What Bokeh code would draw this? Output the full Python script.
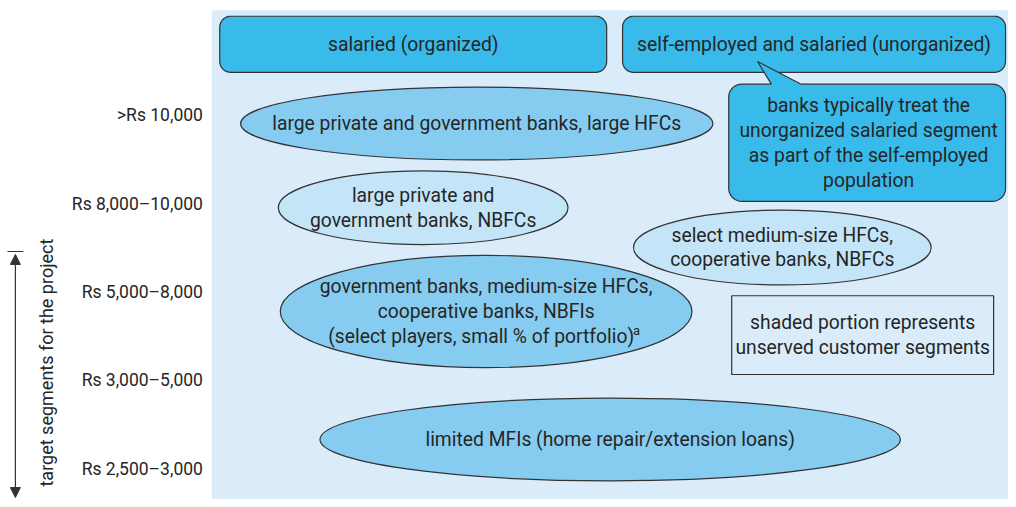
import numpy as np
from bokeh.plotting import figure
from bokeh.models import Range1d, Arrow, NormalHead
from bokeh.core.properties import value
from bokeh.embed import file_html
from bokeh.resources import INLINE

# ---------------- data ----------------
income_levels = [">Rs 10,000", "Rs 8,000\u201310,000", "Rs 5,000\u20138,000",
                 "Rs 3,000\u20135,000", "Rs 2,500\u20133,000"]
segments = ["salaried (organized)", "self-employed and salaried (unorganized)"]
callout_text = ["banks typically treat the", "unorganized salaried segment",
                "as part of the self-employed", "population"]
lender_groups = [
    ["large private and government banks, large HFCs"],
    ["large private and", "government banks, NBFCs"],
    ["select medium-size HFCs,", "cooperative banks, NBFCs"],
    ["government banks, medium-size HFCs,", "cooperative banks, NBFIs",
     "(select players, small % of portfolio)"],
    ["limited MFIs (home repair/extension loans)"],
]
footnote_mark = "a"
legend_text = ["shaded portion represents", "unserved customer segments"]
axis_title = "target segments for the project"

# ---------------- layout / style ----------------
FONT = "Roboto"
FS = "19.3px"
TXT = "#262626"
EDGE = "#333333"
BG = "#DAECFA"
DARK = "#38BAEB"
MID = "#86CCF0"
LIGHT = "#C4E4F7"

level_y = [116, 207, 296, 386, 476]
ell_x = [480, 426, 788, 489.5, 614.5]
ell_y = [125, 210.5, 251, 316, 446]
ell_w = [476, 292, 300, 415, 585]
ell_h = [74, 75, 76, 114, 84]
ell_fill = [MID, LIGHT, LIGHT, MID, MID]
LINE_H = 25.3


def rounded_rect(x0, y0, x1, y1, r, notch=None, n=10):
    xs, ys = [], []
    def arc(cx, cy, a0, a1):
        for t in np.linspace(a0, a1, n):
            xs.append(cx + r * np.cos(t))
            ys.append(cy + r * np.sin(t))
    arc(x0 + r, y0 + r, np.pi, 1.5 * np.pi)          # top-left
    if notch is not None:
        for (nx, ny) in notch:
            xs.append(nx); ys.append(ny)
    arc(x1 - r, y0 + r, 1.5 * np.pi, 2 * np.pi)      # top-right
    arc(x1 - r, y1 - r, 0, 0.5 * np.pi)              # bottom-right
    arc(x0 + r, y1 - r, 0.5 * np.pi, np.pi)          # bottom-left
    return list(xs), list(ys)


p = figure(width=1008, height=499, output_backend="svg", toolbar_location=None,
           x_range=Range1d(0, 1016), y_range=Range1d(507, 0),
           min_border=0, outline_line_color=None)
p.axis.visible = False
p.grid.visible = False
p.background_fill_color = "white"
p.border_fill_color = "white"

# shaded background area
p.quad(left=[213], right=[1016], top=[10], bottom=[507], fill_color=BG, line_color=None)

# segment boxes
box_x = [(221, 611), (627, 1013)]
for (x0, x1), label in zip(box_x, segments):
    xs, ys = rounded_rect(x0, 16, x1, 73, 11)
    p.patch(xs, ys, fill_color=DARK, line_color=EDGE, line_width=1.2)
    p.text(x=[(x0 + x1) / 2], y=[44.5], text=[label], text_align="center",
           text_baseline="middle", text_font=value(FONT), text_font_size=FS,
           text_color=TXT)

# callout
xs, ys = rounded_rect(734, 85, 1013, 204, 13, notch=[(777, 85), (763, 62), (807, 85)])
p.patch(xs, ys, fill_color=DARK, line_color=EDGE, line_width=1.2)
cy0 = 144.5 - LINE_H * (len(callout_text) - 1) / 2
p.text(x=[875] * len(callout_text), y=[cy0 + i * LINE_H for i in range(len(callout_text))],
       text=callout_text, text_align="center", text_baseline="middle",
       text_font=value(FONT), text_font_size=FS, text_color=TXT)

# lender ellipses
p.ellipse(x=ell_x, y=ell_y, width=ell_w, height=ell_h, fill_color=ell_fill,
          line_color=EDGE, line_width=1.2)
for k, (cx, cy, lines) in enumerate(zip(ell_x, ell_y, lender_groups)):
    y0 = cy - LINE_H * (len(lines) - 1) / 2
    xs_t = [cx] * len(lines)
    if k == 3:
        xs_t[-1] = cx - 5
    p.text(x=xs_t, y=[y0 + i * LINE_H for i in range(len(lines))],
           text=lines, text_align="center", text_baseline="middle",
           text_font=value(FONT), text_font_size=FS, text_color=TXT)
    if k == 3:
        p.text(x=[cx + 148], y=[y0 + (len(lines) - 1) * LINE_H - 6],
               text=[footnote_mark], text_align="left", text_baseline="middle",
               text_font=value(FONT), text_font_size="13px", text_color=TXT)

# legend box
p.quad(left=[737], right=[1001], top=[300], bottom=[380], fill_color=BG,
       line_color=EDGE, line_width=1.2)
p.text(x=[869, 869], y=[327, 353], text=legend_text, text_align="center",
       text_baseline="middle", text_font=value(FONT), text_font_size=FS,
       text_color=TXT)

# income level labels
p.text(x=[204] * len(income_levels), y=level_y, text=income_levels,
       text_align="right", text_baseline="middle", text_font=value(FONT),
       text_font_size="17.5px", text_color=TXT)

# target segment arrow + rotated label
p.add_layout(Arrow(x_start=15, y_start=258, x_end=15, y_end=505,
                   start=NormalHead(size=10, fill_color=EDGE, line_color=EDGE),
                   end=NormalHead(size=10, fill_color=EDGE, line_color=EDGE),
                   line_color=EDGE, line_width=1.2))
p.segment(x0=[7], y0=[255], x1=[23], y1=[255], line_color=EDGE, line_width=1.2)
p.text(x=[46], y=[242], text=[axis_title], angle=np.pi / 2, text_align="right",
       text_baseline="middle", text_font=value(FONT), text_font_size="18px",
       text_color=TXT)

open("out.html", "w").write(file_html(p, INLINE))
